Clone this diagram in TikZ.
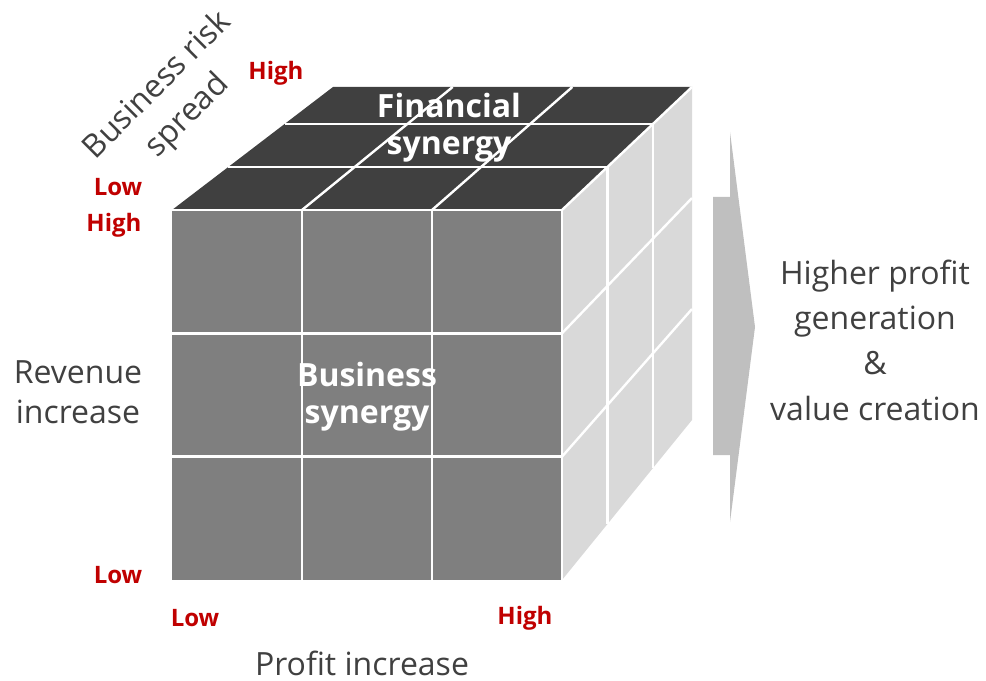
\documentclass[tikz,border=0pt]{standalone}
\usepackage{fontspec}
\setmainfont{Open Sans}
\usepackage{xcolor}
\usetikzlibrary{calc}
\definecolor{txtgray}{HTML}{404040}
\definecolor{lvlred}{HTML}{C00000}
\definecolor{frontgray}{HTML}{7F7F7F}
\definecolor{topgray}{HTML}{404040}
\definecolor{sidegray}{HTML}{D9D9D9}
\definecolor{arrowgray}{HTML}{BFBFBF}

\begin{document}
\begin{tikzpicture}[x=0.75pt, y=-0.75pt,
  axislbl/.style={text=txtgray, align=center, font=\fontsize{24}{30}\selectfont},
  level/.style={text=lvlred, font=\fontsize{18}{21}\selectfont\bfseries},
  synergy/.style={text=white, align=center, font=\fontsize{24}{28}\selectfont\bfseries},
  gridline/.style={white, line width=1.8pt}]
\useasboundingbox (0,0) rectangle (986,681);
% esquinas del cubo
\coordinate (FTL) at (172,210); \coordinate (FTR) at (562,210);
\coordinate (FBL) at (172,580); \coordinate (FBR) at (562,580);
\coordinate (BTL) at (333,87);  \coordinate (BTR) at (692,87);
\coordinate (BBR) at (692,420);
% caras
\fill[frontgray] (FTL) rectangle (FBR);
\fill[topgray] (FTL) -- (FTR) -- (BTR) -- (BTL) -- cycle;
\fill[sidegray] (FTR) -- (BTR) -- (BBR) -- (FBR) -- cycle;
% rejilla
\foreach \t in {1/3,2/3}{
  \draw[gridline] ($(FTL)!\t!(FTR)$) -- ($(FBL)!\t!(FBR)$);
  \draw[gridline] ($(FTL)!\t!(FBL)$) -- ($(FTR)!\t!(FBR)$);
  \draw[gridline] ($(FTL)!\t!(FTR)$) -- ($(BTL)!\t!(BTR)$);
  \draw[gridline] ($(FTR)!\t!(FBR)$) -- ($(BTR)!\t!(BBR)$);
}
\foreach \d in {0.35,0.7}{
  \draw[gridline] ($(FTL)!\d!(BTL)$) -- ($(FTR)!\d!(BTR)$) -- ($(FBR)!\d!(BBR)$);
}
\draw[gridline] (FTL) -- (FTR) -- (FBR);
\draw[gridline] (FTR) -- (BTR);
% flecha
\fill[arrowgray] (713,197) -- (730,197) -- (730,132) -- (755,327) -- (730,522)
  -- (730,455) -- (713,455) -- cycle;
% textos
\node[synergy] (finsyn) at (449,128) {Financial\\synergy};
\node[synergy] (bizsyn) at (367,397) {Business\\synergy};
\node[axislbl] (revenue) at (78,392) {Revenue\\increase};
\node[axislbl, text depth=0pt] (profit) at (362,663) {Profit increase};
\node[axislbl, rotate=45, font=\fontsize{24}{32}\selectfont] (risk) at (173,101)
  {Business risk\\spread};
\node[axislbl, font=\fontsize{24}{34}\selectfont] (gain) at (875,340)
  {Higher profit\\generation\\\&\\value creation};
\node[level] (riskhigh) at (276,73) {High};
\node[level] (risklow) at (118,187) {Low};
\node[level] (revhigh) at (114,225) {High};
\node[level] (revlow) at (118,575) {Low};
\node[level] (proflow) at (195,618) {Low};
\node[level] (profhigh) at (525,618) {High};
\end{tikzpicture}
\end{document}
